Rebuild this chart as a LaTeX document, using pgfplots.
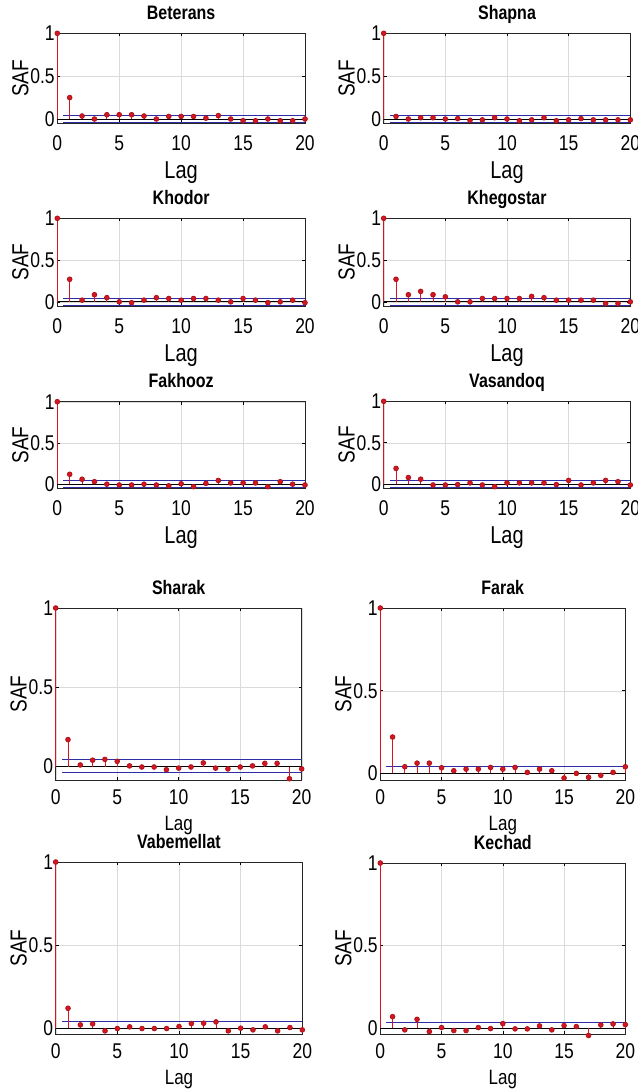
\documentclass[border=0pt]{standalone}
\usepackage{fontspec}
\setmainfont{Liberation Sans}
\usepackage{graphicx}
\usepackage{pgfplots}
\pgfplotsset{compat=1.18}
\definecolor{stemred}{RGB}{212,22,32}
\definecolor{cbblue}{RGB}{45,45,165}
\newcommand\st[1]{\scalebox{1}[1.22]{#1}}
\pgfplotsset{
  acf/.style={
    scale only axis, xmin=0, xmax=20, ymax=1,
    xtick={0,5,10,15,20}, xticklabels={\st{0},\st{5},\st{10},\st{15},\st{20}},
    ytick={0,0.5,1}, yticklabels={\st{0},\st{0.5},\st{1}},
    grid=major, grid style={line width=0.4pt, black!14},
    tick align=inside, major tick length=3pt, tick style={black, line width=0.6pt},
    axis line style={line width=0.7pt, black!85},
    clip=false,
    ticklabel style={font=\fontsize{17.5}{17.5}\selectfont},
    yticklabel style={anchor=east, inner sep=0pt, xshift=-2.5pt},
    title style={at={([yshift=8pt]axis description cs:0.5,1)}, anchor=base, font=\fontsize{16}{16}\selectfont\bfseries},
    ylabel style={at={([xshift=-29pt]axis description cs:0,0.5)}, anchor=base, font=\fontsize{19}{19}\selectfont},
    ylabel={\st{SAF}}, xlabel={\st{Lag}},
  },
  toprow/.style={acf, ymin=-0.05,
    xticklabel style={anchor=base, inner sep=0pt, yshift=-27pt},
    xlabel style={at={([yshift=-55pt]axis description cs:0.5,0)}, anchor=base, font=\fontsize{20}{20}\selectfont}},
  botrow/.style={acf,
    xticklabel style={anchor=base, inner sep=0pt, yshift=-24pt},
    xlabel style={at={([yshift=-50pt]axis description cs:0.5,0)}, anchor=base, font=\fontsize{17}{17}\selectfont}},
  stem/.style={stemred, line width=0.7pt, ycomb, mark=*, mark size=2.4pt, mark options={fill=stemred, draw=stemred!80!black}},
  cb/.style={cbblue, line width=0.8pt, forget plot},
  zl/.style={black, line width=0.8pt, forget plot},
}
\begin{document}
\begin{tikzpicture}
\useasboundingbox (0,0) rectangle (637pt,-1089pt);

% Beterans
\begin{axis}[toprow, at={(57.3pt,-123.3pt)}, anchor=south west, width=247.7pt, height=90pt, title={\st{Beterans}}]
\addplot[zl] coordinates {(0,0) (20,0)};
\addplot[cb] coordinates {(0.5,0.04) (20,0.04)};
\addplot[cb] coordinates {(0.5,-0.04) (20,-0.04)};
\addplot[stem] coordinates {(0,1) (1,0.25) (2,0.035) (3,0.0) (4,0.05) (5,0.05) (6,0.05) (7,0.035) (8,0.0) (9,0.03) (10,0.03) (11,0.03) (12,0.01) (13,0.04) (14,0.0) (15,-0.02) (16,-0.02) (17,0.0) (18,-0.02) (19,-0.02) (20,0.0)};
\end{axis}

% Shapna
\begin{axis}[toprow, at={(383.7pt,-123.3pt)}, anchor=south west, width=246.6pt, height=90pt, title={\st{Shapna}}]
\addplot[zl] coordinates {(0,0) (20,0)};
\addplot[cb] coordinates {(0.5,0.04) (20,0.04)};
\addplot[cb] coordinates {(0.5,-0.04) (20,-0.04)};
\addplot[stem] coordinates {(0,1) (1,0.03) (2,0.0) (3,0.015) (4,0.015) (5,0.0) (6,0.005) (7,-0.015) (8,-0.01) (9,0.015) (10,0.0) (11,-0.02) (12,-0.01) (13,0.015) (14,-0.02) (15,-0.01) (16,0.005) (17,-0.01) (18,-0.01) (19,-0.01) (20,-0.01)};
\end{axis}

% Khodor
\begin{axis}[toprow, at={(57.3pt,-306pt)}, anchor=south west, width=247.7pt, height=87.7pt, title={\st{Khodor}}]
\addplot[zl] coordinates {(0,0) (20,0)};
\addplot[cb] coordinates {(0.5,0.04) (20,0.04)};
\addplot[cb] coordinates {(0.5,-0.04) (20,-0.04)};
\addplot[stem] coordinates {(0,1) (1,0.27) (2,0.02) (3,0.085) (4,0.05) (5,0.0) (6,-0.01) (7,0.02) (8,0.05) (9,0.04) (10,0.02) (11,0.04) (12,0.04) (13,0.02) (14,0.0) (15,0.04) (16,0.02) (17,-0.01) (18,0.0) (19,0.02) (20,-0.01)};
\end{axis}

% Khegostar
\begin{axis}[toprow, at={(383.7pt,-306pt)}, anchor=south west, width=246.6pt, height=87.7pt, title={\st{Khegostar}}]
\addplot[zl] coordinates {(0,0) (20,0)};
\addplot[cb] coordinates {(0.5,0.04) (20,0.04)};
\addplot[cb] coordinates {(0.5,-0.04) (20,-0.04)};
\addplot[stem] coordinates {(0,1) (1,0.27) (2,0.085) (3,0.125) (4,0.085) (5,0.06) (6,0.0) (7,0.0) (8,0.04) (9,0.04) (10,0.04) (11,0.04) (12,0.065) (13,0.05) (14,0.02) (15,0.02) (16,0.02) (17,0.02) (18,-0.02) (19,-0.02) (20,0.0)};
\end{axis}

% Fakhooz
\begin{axis}[toprow, at={(57.3pt,-488.3pt)}, anchor=south west, width=247.7pt, height=86.6pt, title={\st{Fakhooz}}]
\addplot[zl] coordinates {(0,0) (20,0)};
\addplot[cb] coordinates {(0.5,0.04) (20,0.04)};
\addplot[cb] coordinates {(0.5,-0.04) (20,-0.04)};
\addplot[stem] coordinates {(0,1) (1,0.12) (2,0.06) (3,0.03) (4,0.0) (5,-0.01) (6,-0.01) (7,0.0) (8,-0.01) (9,-0.02) (10,0.005) (11,-0.03) (12,0.01) (13,0.045) (14,0.015) (15,0.015) (16,0.015) (17,-0.03) (18,0.03) (19,0.0) (20,-0.01)};
\end{axis}

% Vasandoq
\begin{axis}[toprow, at={(383.7pt,-488.3pt)}, anchor=south west, width=246.6pt, height=87pt, title={\st{Vasandoq}}]
\addplot[zl] coordinates {(0,0) (20,0)};
\addplot[cb] coordinates {(0.5,0.04) (20,0.04)};
\addplot[cb] coordinates {(0.5,-0.04) (20,-0.04)};
\addplot[stem] coordinates {(0,1) (1,0.19) (2,0.08) (3,0.06) (4,-0.01) (5,-0.01) (6,-0.005) (7,0.015) (8,-0.01) (9,-0.03) (10,0.015) (11,0.015) (12,0.015) (13,0.015) (14,-0.005) (15,0.045) (16,-0.01) (17,0.015) (18,0.045) (19,0.03) (20,-0.01)};
\end{axis}

% Sharak
\begin{axis}[botrow, ymin=-0.085, at={(55.7pt,-780pt)}, anchor=south west, width=246pt, height=172pt, title={\st{Sharak}}]
\addplot[zl] coordinates {(0,0) (20,0)};
\addplot[cb] coordinates {(0.5,0.042) (20,0.042)};
\addplot[cb] coordinates {(0.5,-0.036) (20,-0.036)};
\addplot[stem] coordinates {(0,1) (1,0.17) (2,0.01) (3,0.04) (4,0.045) (5,0.033) (6,0.004) (7,-0.003) (8,-0.003) (9,-0.02) (10,-0.01) (11,-0.003) (12,0.023) (13,-0.01) (14,-0.015) (15,-0.003) (16,0.004) (17,0.02) (18,0.02) (19,-0.077) (20,-0.015)};
\end{axis}

% Farak
\begin{axis}[botrow, ymin=-0.04, at={(380.3pt,-780pt)}, anchor=south west, width=245pt, height=172pt, title={\st{Farak}}]
\addplot[zl] coordinates {(0,0) (20,0)};
\addplot[cb] coordinates {(0.5,0.04) (20,0.04)};
\addplot[stem] coordinates {(0,1) (1,0.22) (2,0.04) (3,0.062) (4,0.062) (5,0.034) (6,0.016) (7,0.026) (8,0.026) (9,0.036) (10,0.026) (11,0.036) (12,0.006) (13,0.026) (14,0.016) (15,-0.028) (16,0.0) (17,-0.024) (18,-0.012) (19,0.006) (20,0.04)};
\end{axis}

% Vabemellat
\begin{axis}[botrow, ymin=-0.035, at={(55.7pt,-1034pt)}, anchor=south west, width=246.6pt, height=172pt, title={\st{Vabemellat}}]
\addplot[zl] coordinates {(0,0) (20,0)};
\addplot[cb] coordinates {(0.5,0.038) (20,0.038)};
\addplot[stem] coordinates {(0,1) (1,0.12) (2,0.02) (3,0.026) (4,-0.016) (5,-0.002) (6,0.008) (7,-0.002) (8,-0.002) (9,-0.002) (10,0.01) (11,0.028) (12,0.03) (13,0.038) (14,-0.016) (15,0.0) (16,-0.01) (17,0.008) (18,-0.016) (19,0.004) (20,-0.01)};
\end{axis}

% Kechad
\begin{axis}[botrow, ymin=-0.035, at={(380.3pt,-1034pt)}, anchor=south west, width=245pt, height=171pt, title={\st{Kechad}}]
\addplot[zl] coordinates {(0,0) (20,0)};
\addplot[cb] coordinates {(0.5,0.038) (20,0.038)};
\addplot[stem] coordinates {(0,1) (1,0.07) (2,-0.01) (3,0.054) (4,-0.02) (5,0.004) (6,-0.014) (7,-0.014) (8,0.004) (9,-0.002) (10,0.028) (11,-0.004) (12,-0.004) (13,0.014) (14,-0.01) (15,0.016) (16,0.01) (17,-0.044) (18,0.02) (19,0.026) (20,0.022)};
\end{axis}
\end{tikzpicture}
\end{document}
